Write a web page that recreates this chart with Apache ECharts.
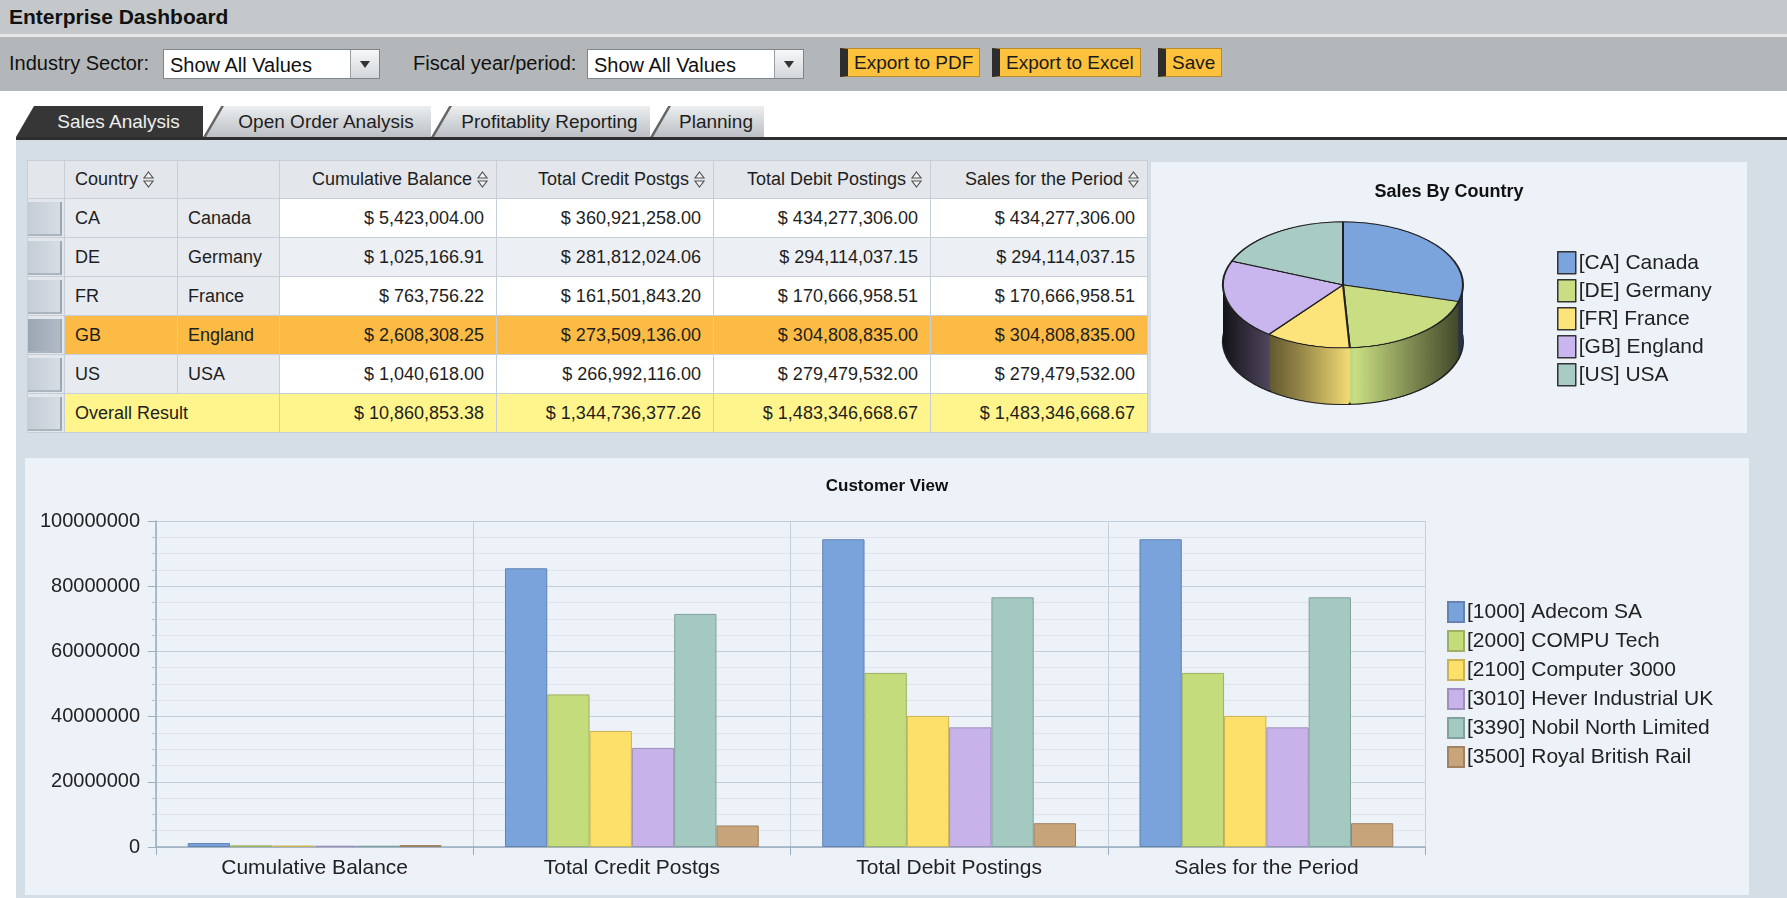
<!DOCTYPE html>
<html>
<head>
<meta charset="utf-8">
<title>Enterprise Dashboard</title>
<script src="https://cdn.jsdelivr.net/npm/echarts@6/dist/echarts.min.js"></script>
<style>
  html, body { margin:0; padding:0; width:1787px; height:898px; overflow:hidden; background:#fff;
    font-family:"Liberation Sans", Arial, sans-serif; color:#1e1e1e; }
  .abs { position:absolute; }

  /* header */
  .titleBar { left:0; top:0; width:1787px; height:34px; background:#c5c8cb; border-bottom:3px solid #e3e5e7; }
  .titleBar span { position:absolute; left:9px; top:5px; font-size:21px; font-weight:bold; color:#111; }
  .toolBar { left:0; top:37px; width:1787px; height:54px; background:#b3b7ba; }
  .lbl { position:absolute; top:15px; font-size:20px; color:#111; }
  .drop { position:absolute; top:12px; height:28px; width:215px; background:#fff; border:1px solid #7d848a; }
  .drop span { position:absolute; left:6px; top:4px; font-size:20px; color:#111; }
  .drop i { position:absolute; right:0; top:0; width:28px; height:28px; background:linear-gradient(#f6f7f8,#d3d7da); border-left:1px solid #98a0a6; }
  .drop i:after { content:""; position:absolute; left:9px; top:11px; border-left:5px solid transparent; border-right:5px solid transparent; border-top:7px solid #333; }
  .btn { position:absolute; top:11px; height:27px; background:#fcc23d; border:1px solid #b78c2c; border-left:8px solid #2d2d2d;
    font-size:19px; line-height:27px; padding:0 6px; color:#1a1a1a; }

  /* tabs */
  .tab { position:absolute; top:106px; height:31px; line-height:31px; text-align:center; font-size:19px; box-sizing:border-box;
    padding-left:18px; clip-path:polygon(0 100%, 18px 0, 100% 0, 100% 100%); }
  .tab.on { background:#363636; color:#eee; }
  .tab.off { background:linear-gradient(#eceef0,#bcc0c4); color:#1e1e1e; }
  .tab.off:before { content:""; position:absolute; left:0; top:0; width:24px; height:31px; background:#666;
    clip-path:polygon(0 100%, 18px 0, 21px 0, 3px 100%); }
  .tabLine { left:16px; top:137px; width:1771px; height:3px; background:#2e2e2e; }
  .content { left:16px; top:140px; width:1771px; height:758px; background:#d5dde6; }

  /* table */
  table.grid { position:absolute; left:27px; top:160px; border-collapse:collapse; font-size:18px; color:#1e1e1e; }
  table.grid td, table.grid th { border:1px solid #c6ced7; padding:0; white-space:nowrap; font-weight:normal; }
  table.grid th { height:36px; background:#e3e7eb; text-align:right; padding-right:8px; }
  table.grid th.l { text-align:left; padding-left:10px; }
  table.grid td { height:37px; }
  td.sel { width:36px; background:#e3e7eb; padding:0 !important; }
  td.sel div { margin:3px 2px 1px 0; height:32px; background:linear-gradient(90deg,#c4ccd5,#d6dde4); border-right:2px solid #9ba7b3; border-bottom:2px solid #aab5c0; }
  td.sel.dark div { background:linear-gradient(90deg,#9aa6b2,#b0bbc6); }
  td.code { width:102px; padding-left:10px !important; background:#e7ebef; }
  td.name { width:91px; padding-left:10px !important; background:#e7ebef; }
  td.val { width:204px; text-align:right; padding-right:12px !important; background:#fff; }
  tr.alt td.val { background:#eceff3; }
  tr.hi td.code, tr.hi td.name, tr.hi td.val { background:#fbbb45; }
  tr.tot td.code, tr.tot td.val { background:#fff58c; }
  svg.sort { vertical-align:-3px; margin-left:5px; }

  .panel { background:#edf2f8; }
</style>
</head>
<body>
<div class="abs titleBar"><span>Enterprise Dashboard</span></div>
<div class="abs toolBar">
  <span class="lbl" style="left:9px">Industry Sector:</span>
  <div class="drop" style="left:163px"><span>Show All Values</span><i></i></div>
  <span class="lbl" style="left:413px">Fiscal year/period:</span>
  <div class="drop" style="left:587px"><span>Show All Values</span><i></i></div>
  <div class="btn" style="left:840px">Export to PDF</div>
  <div class="btn" style="left:992px">Export to Excel</div>
  <div class="btn" style="left:1158px">Save</div>
</div>

<div class="tab on" style="left:16px;width:187px">Sales Analysis</div>
<div class="tab off" style="left:203px;width:228px">Open Order Analysis</div>
<div class="tab off" style="left:431px;width:219px">Profitablity Reporting</div>
<div class="tab off" style="left:650px;width:114px">Planning</div>
<div class="abs tabLine"></div>
<div class="abs content"></div>

<table class="grid" id="tbl"></table>

<div class="abs panel" id="piePanel" style="left:1151px;top:162px;width:596px;height:271px;overflow:hidden">
  <div id="pie3d" style="position:absolute;left:62px;top:0;width:260px;height:480px;transform:scaleY(0.525);transform-origin:0 0"></div>
  <div id="pieText" style="position:absolute;left:0;top:0;width:596px;height:271px"></div>
</div>

<div class="abs panel" id="barChart" style="left:25px;top:458px;width:1724px;height:437px"></div>

<script>
  // ---- table data ----
  const countryCodes = ['CA', 'DE', 'FR', 'GB', 'US'];
  const countryNames = ['Canada', 'Germany', 'France', 'England', 'USA'];
  const cumulativeBalance = [5423004.00, 1025166.91, 763756.22, 2608308.25, 1040618.00];
  const totalCreditPostgs = [360921258.00, 281812024.06, 161501843.20, 273509136.00, 266992116.00];
  const totalDebitPostings = [434277306.00, 294114037.15, 170666958.51, 304808835.00, 279479532.00];
  const salesForPeriod = [434277306.00, 294114037.15, 170666958.51, 304808835.00, 279479532.00];
  const overallResult = [10860853.38, 1344736377.26, 1483346668.67, 1483346668.67];
  const tableHeaders = ['Cumulative Balance', 'Total Credit Postgs', 'Total Debit Postings', 'Sales for the Period'];

  // ---- pie data ----
  const pieLabels = ['[CA] Canada', '[DE] Germany', '[FR] France', '[GB] England', '[US] USA'];
  const pieColors = ['#7ba4dc', '#c9de82', '#fde47a', '#c9b6ee', '#a8cbc3'];

  // ---- bar data ----
  const measures = ['Cumulative Balance', 'Total Credit Postgs', 'Total Debit Postings', 'Sales for the Period'];
  const customers = ['[1000] Adecom SA', '[2000] COMPU Tech', '[2100] Computer 3000',
    '[3010] Hever Industrial UK', '[3390] Nobil North Limited', '[3500] Royal British Rail'];
  const adecomSA = [1200000, 85500000, 94400000, 94400000];
  const compuTech = [500000, 46800000, 53400000, 53400000];
  const computer3000 = [450000, 35600000, 40200000, 40200000];
  const heverIndustrial = [400000, 30400000, 36700000, 36700000];
  const nobilNorth = [400000, 71500000, 76600000, 76600000];
  const royalBritishRail = [600000, 6600000, 7300000, 7300000];
  const barColors = ['#7aa3dc', '#c5dc7c', '#fde06a', '#c7b3ea', '#a4c9c0', '#c8a47a'];

  const FONT = '"Liberation Sans", Arial, sans-serif';

  function money(v) {
    return '$ ' + v.toLocaleString('en-US', {minimumFractionDigits: 2, maximumFractionDigits: 2});
  }
  function shade(hex, f) {
    let n = parseInt(hex.slice(1), 16);
    let r = Math.round(((n >> 16) & 255) * f), g = Math.round(((n >> 8) & 255) * f), b = Math.round((n & 255) * f);
    return 'rgb(' + r + ',' + g + ',' + b + ')';
  }

  // ---- build table ----
  const sortIcon = '<svg class="sort" width="11" height="17" viewBox="0 0 11 17"><path d="M5.5 1 L10 7 L1 7 Z M5.5 16 L10 10 L1 10 Z" fill="#f4f4f4" stroke="#555" stroke-width="1.2"/></svg>';
  let html = '<tr><td class="sel"></td><th class="l">Country' + sortIcon + '</th><th></th>';
  tableHeaders.forEach(h => { html += '<th>' + h + sortIcon + '</th>'; });
  html += '</tr>';
  countryCodes.forEach((c, i) => {
    let cls = i === 3 ? 'hi' : (i === 1 ? 'alt' : '');
    html += '<tr class="' + cls + '"><td class="sel' + (i === 3 ? ' dark' : '') + '"><div></div></td>' +
      '<td class="code">' + c + '</td><td class="name">' + countryNames[i] + '</td>' +
      '<td class="val">' + money(cumulativeBalance[i]) + '</td>' +
      '<td class="val">' + money(totalCreditPostgs[i]) + '</td>' +
      '<td class="val">' + money(totalDebitPostings[i]) + '</td>' +
      '<td class="val">' + money(salesForPeriod[i]) + '</td></tr>';
  });
  html += '<tr class="tot"><td class="sel"><div></div></td><td class="code" colspan="2">Overall Result</td>';
  overallResult.forEach(v => { html += '<td class="val">' + money(v) + '</td>'; });
  html += '</tr>';
  document.getElementById('tbl').innerHTML = html;

  // ---- 3D pie (stacked layers, squashed with css) ----
  const pie3d = echarts.init(document.getElementById('pie3d'));
  const cx = 130, cy = 234, R = 120, depth = 108;
  const pieSeries = [];
  for (let off = depth; off > 0; off -= 3) {
    pieSeries.push({
      type: 'pie', center: [cx, cy + off], radius: [0, R], silent: true, animation: false,
      label: {show: false}, labelLine: {show: false}, emphasis: {disabled: true},
      itemStyle: off === depth ? {borderColor: '#222', borderWidth: 2} : {borderWidth: 0},
      data: salesForPeriod.map((v, i) => ({
        value: v, name: pieLabels[i],
        itemStyle: {color: new echarts.graphic.LinearGradient(cx - R, 0, cx + R, 0, [
          {offset: 0, color: shade(pieColors[i], 0.1)},
          {offset: 0.3, color: shade(pieColors[i], 0.55)},
          {offset: 0.55, color: pieColors[i]},
          {offset: 0.8, color: shade(pieColors[i], 0.6)},
          {offset: 1, color: shade(pieColors[i], 0.3)}
        ], true)}
      }))
    });
  }
  pieSeries.push({
    type: 'pie', center: [cx, cy], radius: [0, R], silent: true, animation: false,
    label: {show: false}, labelLine: {show: false}, emphasis: {disabled: true},
    itemStyle: {borderColor: '#222', borderWidth: 2},
    data: salesForPeriod.map((v, i) => ({value: v, name: pieLabels[i], itemStyle: {color: pieColors[i]}}))
  });
  pie3d.setOption({animation: false, series: pieSeries});

  // pie title and legend, unsquashed
  const pieText = echarts.init(document.getElementById('pieText'));
  pieText.setOption({
    animation: false,
    title: {text: 'Sales By Country', left: 'center', top: 16,
      textStyle: {fontSize: 18, fontWeight: 'bold', color: '#111', fontFamily: FONT}},
    legend: {
      orient: 'vertical', left: 401, top: 84, icon: 'rect', itemWidth: 18, itemHeight: 22, itemGap: 4.5,
      itemStyle: {borderColor: '#333', borderWidth: 1.5},
      textStyle: {fontSize: 21, color: '#222', fontFamily: FONT, padding: [0, 0, 0, -2]},
      data: pieLabels
    },
    series: [{
      type: 'pie', radius: [0, 0], center: [-50, -50], silent: true,
      label: {show: false}, labelLine: {show: false},
      data: salesForPeriod.map((v, i) => ({value: v, name: pieLabels[i], itemStyle: {color: pieColors[i]}}))
    }]
  });

  // ---- customer view bar chart ----
  const barChart = echarts.init(document.getElementById('barChart'));
  const barData = [adecomSA, compuTech, computer3000, heverIndustrial, nobilNorth, royalBritishRail];
  barChart.setOption({
    animation: false,
    title: {text: 'Customer View', left: 'center', top: 15,
      textStyle: {fontSize: 17, fontWeight: 'bold', color: '#111', fontFamily: FONT}},
    legend: {
      orient: 'vertical', left: 1417, top: 138, icon: 'rect', itemWidth: 16, itemHeight: 20, itemGap: 7,
      textStyle: {fontSize: 21, color: '#222', fontFamily: FONT, padding: [0, 0, 0, -2]},
      data: customers
    },
    grid: {left: 131, right: 324, top: 63, bottom: 48, containLabel: false},
    xAxis: {
      type: 'category', data: measures,
      axisLine: {lineStyle: {color: '#9badbf', width: 1.5}},
      axisTick: {show: true, length: 8, lineStyle: {color: '#9badbf'}},
      splitLine: {show: true, interval: 0, lineStyle: {color: '#c6d0db'}},
      axisLabel: {fontSize: 21, color: '#222', margin: 11, fontFamily: FONT}
    },
    yAxis: {
      type: 'value', min: 0, max: 100000000, interval: 20000000,
      axisLine: {show: true, lineStyle: {color: '#9badbf', width: 1.5}},
      axisTick: {show: true, length: 8, lineStyle: {color: '#9badbf'}},
      minorTick: {show: true, splitNumber: 4, length: 4, lineStyle: {color: '#b3c0cd'}},
      splitLine: {show: true, lineStyle: {color: '#c3cedb'}},
      minorSplitLine: {show: true, lineStyle: {color: '#dde4ec'}},
      axisLabel: {fontSize: 20, color: '#222', margin: 16, fontFamily: FONT, formatter: v => String(v)}
    },
    series: customers.map((name, i) => ({
      type: 'bar', name: name, data: barData[i], barGap: 0, barCategoryGap: '20%',
      itemStyle: {color: barColors[i], borderColor: shade(barColors[i], 0.8), borderWidth: 1}
    }))
  });
</script>
</body>
</html>
